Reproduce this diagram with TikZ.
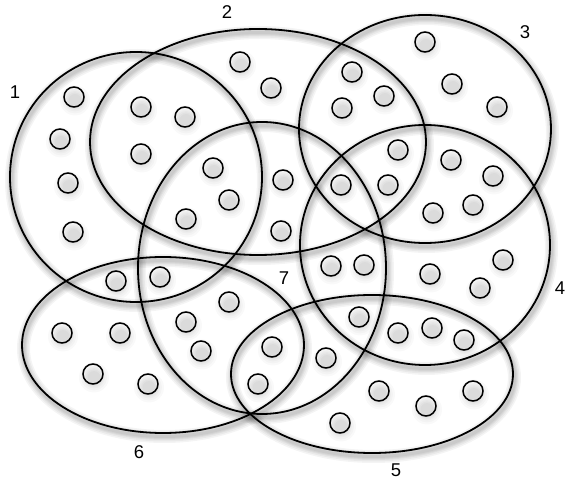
\documentclass[tikz,border=0pt]{standalone}
\usepackage{fontspec}
\setmainfont{Liberation Sans}
\begin{document}
\begin{tikzpicture}[x=1pt,y=-1pt,
  setline/.style={draw=black, line width=1.8pt},
  dotnode/.style={circle, draw=black, line width=1.5pt, minimum size=20pt, inner sep=0pt},
  setlabel/.style={font=\fontsize{18.5}{21}\selectfont, inner sep=0pt}]
\useasboundingbox (0,0) rectangle (566,489);
\fill[white] (0,0) rectangle (566,489);
% ellipse data: cx, cy, rx, ry
\def\ellipses{136/177/126/125, 258/142/168/113, 425/129/126/114, 425/245/125/120, 372/374/141/79, 163/345/141/88, 262/268/124/146}
\def\dots{74/97, 60/139, 68/183, 73/232,
 141/107, 185/117, 141/154,
 213/168, 229/200, 186/219,
 240/62, 271/88,
 283/180, 281/231,
 352/72, 384/96, 342/108,
 425/42, 452/84, 497/107,
 398/150, 388/185, 341/185,
 451/160, 493/176, 473/205, 433/213,
 331/266, 364/265,
 430/274, 480/288, 503/260,
 359/317,
 398/333, 432/328, 464/340,
 326/358,
 379/391, 426/406, 473/391, 340/423,
 272/347, 258/384,
 116/281, 160/277,
 229/302, 186/322, 201/351,
 62/333, 120/333, 93/374, 148/384}
% shadows of the set outlines
\foreach \cx/\cy/\rx/\ry in \ellipses {
  \foreach \w in {13,10,7,5,3} {
    \draw[black, opacity=0.045, line width=\w pt]
      ([shift={(1.5pt,-3.5pt)}]\cx,\cy) ellipse [x radius=\rx pt, y radius=\ry pt];
  }
}
% shadows of the dots
\foreach \px/\py in \dots {
  \foreach \r in {15,13,11,9.5,8,6.5} {
    \fill[black, opacity=0.025] ([shift={(1pt,-3.5pt)}]\px,\py) circle [radius=\r pt];
  }
}
% set outlines
\foreach \cx/\cy/\rx/\ry [count=\i] in \ellipses {
  \draw[setline] (\cx,\cy) ellipse [x radius=\rx pt, y radius=\ry pt];
}
% dots
\foreach \px/\py [count=\i] in \dots {
  \node[dotnode] (d\i) at (\px,\py) {};
}
% labels
\node[setlabel] (l1) at (15,92) {1};
\node[setlabel] (l2) at (227,12) {2};
\node[setlabel] (l3) at (525,32) {3};
\node[setlabel] (l4) at (560,288) {4};
\node[setlabel] (l5) at (396,470) {5};
\node[setlabel] (l6) at (139,452) {6};
\node[setlabel] (l7) at (284,278) {7};
\end{tikzpicture}
\end{document}
